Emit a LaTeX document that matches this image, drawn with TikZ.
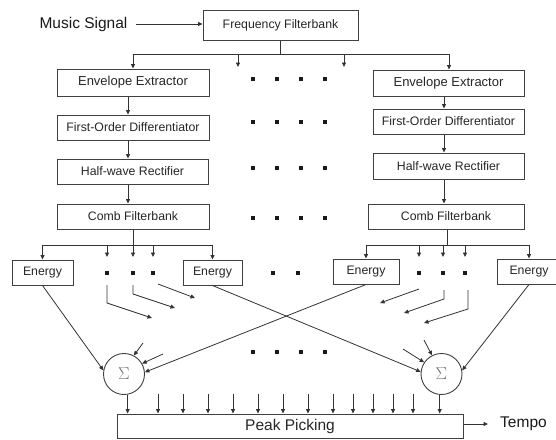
\documentclass[tikz,border=0pt]{standalone}
\usepackage{fontspec}
\setmainfont{Liberation Sans}
\usetikzlibrary{arrows.meta}
\begin{document}
\begin{tikzpicture}[x=1pt,y=-1pt,
  line/.style={draw=black!80,line width=0.8pt},
  arr/.style={line,-{Triangle[length=4.5pt,width=4pt]}},
  blk/.style={draw=black!75,line width=1pt,inner sep=0pt,text=black!85,
    font=\fontsize{12.3}{14}\selectfont},
  big/.style={inner sep=0pt,text=black!90,font=\fontsize{15.5}{18}\selectfont},
  sumnode/.style={circle,draw=black!75,line width=0.9pt,minimum size=41pt,
    inner sep=0pt,text=black!55,font=\fontsize{17}{20}\selectfont},
  dot/.style={fill=black!90,minimum size=3.5pt,inner sep=0pt}
]
\clip (0,0) rectangle (556,439);

% ---- input and filterbank
\node[blk,minimum width=155pt,minimum height=30pt] (ff) at (280.5,25) {Frequency Filterbank};
\node[big] (music) at (83.5,24) {Music Signal};
\draw[arr] ([xshift=8pt]music.east) -- (ff.west |- music.east);

% ---- left channel
\node[blk,minimum width=152pt,minimum height=27pt,font=\fontsize{13}{15}\selectfont] (eeL) at (133,82.5) {Envelope Extractor};
\node[blk,minimum width=152pt,minimum height=25pt] (fodL) at (133,127.5) {First-Order Differentiator};
\node[blk,minimum width=151pt,minimum height=25pt] (hwL) at (132.5,171.5) {Half-wave Rectifier};
\node[blk,minimum width=152pt,minimum height=25pt] (cbL) at (133,216.5) {Comb Filterbank};

% ---- right channel
\node[blk,minimum width=151pt,minimum height=26pt,font=\fontsize{13}{15}\selectfont] (eeR) at (448.5,83) {Envelope Extractor};
\node[blk,minimum width=151pt,minimum height=25pt] (fodR) at (448.5,121.5) {First-Order Differentiator};
\node[blk,minimum width=151pt,minimum height=26pt] (hwR) at (448.5,166) {Half-wave Rectifier};
\node[blk,minimum width=156pt,minimum height=25pt] (cbR) at (446,216.5) {Comb Filterbank};

% ---- energy blocks
\node[blk,minimum width=61pt,minimum height=25pt] (e1) at (42.5,272.5) {Energy};
\node[blk,minimum width=59pt,minimum height=25pt] (e2) at (212.5,272.5) {Energy};
\node[blk,minimum width=66pt,minimum height=25pt] (e3) at (366,271.5) {Energy};
\node[blk,minimum width=64pt,minimum height=25pt] (e4) at (529,271.5) {Energy};

% ---- summation and peak picking
\node[sumnode] (sigL) at (124,374) {$\Sigma$};
\node[sumnode] (sigR) at (441.5,374) {$\Sigma$};
\node[blk,minimum width=346pt,minimum height=24pt,font=\fontsize{15.5}{18}\selectfont] (pp) at (290,426) {Peak Picking};
\node[big,anchor=west] (tempo) at (500,424) {Tempo};
\draw[arr] (pp.east |- tempo.west) -- ([xshift=-12pt]tempo.west);

% ---- filterbank fan-out
\coordinate (tL) at (133,54);
\coordinate (tR) at (449,54);
\coordinate (t2) at (238,54);
\coordinate (t3) at (344,54);
\coordinate (t2e) at (238,67);
\coordinate (t3e) at (344,67);
\draw[line] (ff.south) -- (ff.south |- tL);
\draw[line] (tL) -- (tR);
\draw[arr] (tL) -- (eeL.north);
\draw[arr] (tR) -- (tR |- eeR.north);
\draw[arr] (t2) -- (t2e);
\draw[arr] (t3) -- (t3e);

% ---- channel chains
\coordinate (cl) at (128,0);
\coordinate (cr) at (444,0);
\draw[arr] (eeL.south -| cl) -- (fodL.north -| cl);
\draw[arr] (fodL.south -| cl) -- (hwL.north -| cl);
\draw[arr] (hwL.south -| cl) -- (cbL.north -| cl);
\draw[arr] (eeR.south -| cr) -- (fodR.north -| cr);
\draw[arr] (fodR.south -| cr) -- (hwR.north -| cr);
\draw[arr] (hwR.south -| cr) -- (cbR.north -| cr);

% ---- comb filterbank fan-out
\coordinate (bl1) at (42.5,245);
\coordinate (bl2) at (212.5,245);
\coordinate (br1) at (366,245);
\coordinate (br2) at (529,245);
\draw[line] (cbL.south) -- (cbL.south |- bl1);
\draw[line] (bl1) -- (bl2);
\draw[arr] (bl1) -- (e1.north);
\draw[arr] (bl2) -- (e2.north);
\draw[line] ([xshift=1pt]cbR.south) -- ([xshift=1pt]cbR.south |- br1);
\draw[line] (br1) -- (br2);
\draw[arr] (br1) -- (e3.north);
\draw[arr] (br2) -- (e4.north);
\foreach \x [count=\i] in {107,133,153} {
  \coordinate (ls\i) at (\x,245);
  \coordinate (le\i) at (\x,257);
  \draw[arr] (ls\i) -- (le\i);
  \node[dot] (ld\i) at (\x,273) {};
}
\foreach \x [count=\i] in {419,443,465} {
  \coordinate (rs\i) at (\x,245);
  \coordinate (re\i) at (\x,257);
  \draw[arr] (rs\i) -- (re\i);
  \node[dot] (rd\i) at (\x,273) {};
}

% ---- ellipsis dots between the channels
\foreach \y [count=\r] in {79,122,168,218,352} {
  \foreach \x [count=\c] in {253,277,301,325} {
    \node[dot] (m\r\c) at (\x,\y) {};
  }
}
\node[dot] (mm1) at (273,273) {};
\node[dot] (mm2) at (298,273) {};

% ---- other comb outputs heading to the adders
\coordinate (a1s) at (107,285); \coordinate (a1m) at (107,303); \coordinate (a1e) at (152,318);
\coordinate (a2s) at (133,285); \coordinate (a2m) at (133,294); \coordinate (a2e) at (175,308);
\coordinate (a3s) at (158,284); \coordinate (a3e) at (195,298);
\draw[arr] (a1s) -- (a1m) -- (a1e);
\draw[arr] (a2s) -- (a2m) -- (a2e);
\draw[arr] (a3s) -- (a3e);
\coordinate (b1s) at (419,289); \coordinate (b1e) at (380,303);
\coordinate (b2s) at (444,290); \coordinate (b2m) at (444,299); \coordinate (b2e) at (404,313);
\coordinate (b3s) at (468,290); \coordinate (b3m) at (468,309); \coordinate (b3e) at (424,323);
\draw[arr] (b1s) -- (b1e);
\draw[arr] (b2s) -- (b2m) -- (b2e);
\draw[arr] (b3s) -- (b3m) -- (b3e);

% ---- energies into the adders
\draw[arr] (e1.south) -- (sigL.170);
\draw[arr] (e2.south) -- (sigR.174);
\draw[arr] (e3.south) -- (sigL.5);
\draw[arr] (e4.south) -- (sigR.10);
\coordinate (sl1) at (143,343);
\coordinate (sl2) at (163,354);
\coordinate (sr1) at (403,349);
\coordinate (sr2) at (424,340);
\draw[arr] (sl1) -- (sigL.62);
\draw[arr] (sl2) -- (sigL.30);
\draw[arr] (sr1) -- (sigR.146);
\draw[arr] (sr2) -- (sigR.117);

% ---- into peak picking
\draw[arr] (sigL.-80) -- (sigL.-80 |- pp.north);
\draw[arr] (sigR.-95) -- (sigR.-95 |- pp.north);
\foreach \x [count=\i] in {158,183,208,233,258,283,308,333,353,373,393,413} {
  \coordinate (pk\i) at (\x,394);
  \draw[arr] (pk\i) -- (pk\i |- pp.north);
}
\end{tikzpicture}
\end{document}
